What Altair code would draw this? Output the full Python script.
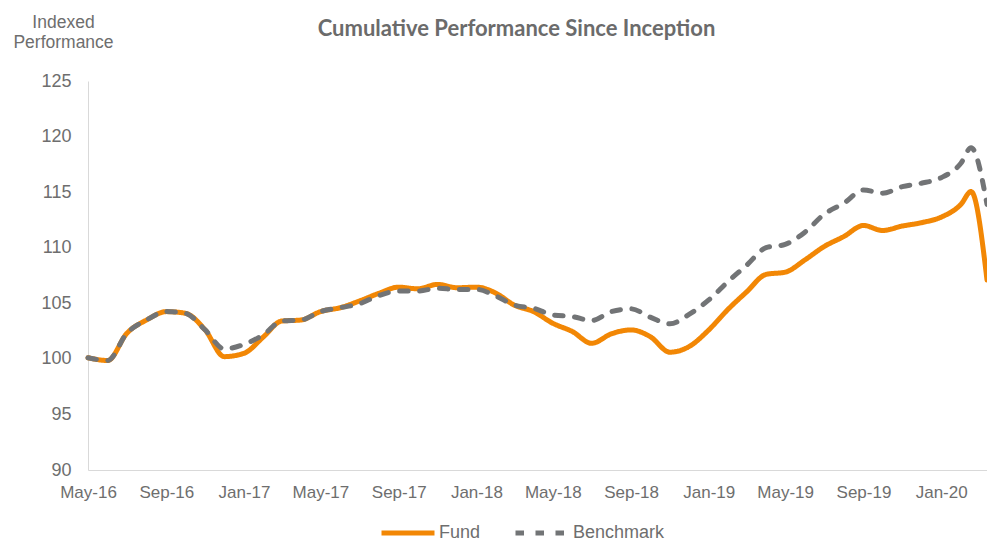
import altair as alt
import pandas as pd

# ---- data ----
month_starts = [d.strftime("%Y-%m-%d") for d in pd.date_range("2016-05-01", "2020-02-01", freq="MS")]
dates = month_starts + ["2020-02-17", "2020-03-13"]

fund = [100.1, 99.85, 102.3, 103.5, 104.25, 104.1, 102.6, 100.2, 100.5, 102.0,
        103.4, 103.5, 104.25, 104.6, 105.2, 105.9, 106.45, 106.3, 106.7, 106.4,
        106.45, 105.9, 104.85, 104.25, 103.2, 102.45, 101.4, 102.25, 102.6, 102.0,
        100.6, 101.1, 102.6, 104.5, 106.0, 107.6, 107.8, 108.9, 110.1, 111.0,
        112.0, 111.55, 111.95, 112.25, 112.75, 113.9, 115.05, 107.1]

benchmark = [100.1, 99.85, 102.3, 103.5, 104.25, 104.1, 102.6, 100.9, 101.3, 102.2,
             103.4, 103.5, 104.25, 104.6, 104.95, 105.7, 106.1, 106.1, 106.35, 106.25,
             106.25, 105.65, 104.85, 104.55, 103.95, 103.8, 103.45, 104.25, 104.5, 103.75,
             103.15, 104.0, 105.3, 107.0, 108.4, 110.0, 110.3, 111.4, 113.0, 114.0,
             115.2, 114.9, 115.5, 115.8, 116.3, 117.6, 119.0, 113.9]

series_names = ["Fund", "Benchmark"]
series_colors = ["#F28705", "#727476"]
tick_years_months = [(2016, 5), (2016, 9), (2017, 1), (2017, 5), (2017, 9), (2018, 1),
                     (2018, 5), (2018, 9), (2019, 1), (2019, 5), (2019, 9), (2020, 1)]
y_ticks = [90, 95, 100, 105, 110, 115, 120, 125]

df = pd.DataFrame({
    "date": dates * 2,
    "series": ["Fund"] * len(dates) + ["Benchmark"] * len(dates),
    "value": fund + benchmark,
})

TEXT = "#6e6e6e"
FONT = "Liberation Sans"

xscale = alt.Scale(type="utc",
                   domain=[alt.DateTime(year=2016, month=5, date=1, utc=True),
                           alt.DateTime(year=2020, month=3, date=13, utc=True)])
xaxis = alt.Axis(values=[alt.DateTime(year=y, month=m, date=1, utc=True) for y, m in tick_years_months],
                 format="%b-%y", labelFontSize=17, labelColor=TEXT, labelFont=FONT,
                 ticks=False, tickSize=0, labelPadding=14, grid=False,
                 domainColor="#d9d9d9", domainWidth=1, labelOverlap=False, labelFlush=False)
yaxis = alt.Axis(values=y_ticks, labelFontSize=18, labelColor=TEXT, labelFont=FONT,
                 ticks=False, tickSize=0, labelPadding=17, grid=False,
                 domainColor="#d9d9d9", domainWidth=1,
                 title=["Indexed", "Performance"], titleAngle=0, titleAlign="center",
                 titleBaseline="top", titleX=-25, titleY=-68, titleFontSize=17.5,
                 titleFontWeight="normal", titleColor=TEXT, titleFont=FONT, titleLineHeight=20)

legend = alt.Legend(title=None, orient="none", legendX=291, legendY=423, direction="horizontal",
                    symbolType="stroke", symbolSize=2809, symbolStrokeWidth=5,
                    labelFontSize=18, labelColor=TEXT, labelFont=FONT, labelOffset=2,
                    columnPadding=24, padding=0)

base = alt.Chart(df)


def line(name):
    return base.transform_filter(alt.datum.series == name).mark_line(
        interpolate="monotone", strokeWidth=5, strokeCap="round", strokeJoin="round"
    ).encode(
        x=alt.X("date:T", scale=xscale, axis=xaxis, title=None),
        y=alt.Y("value:Q", scale=alt.Scale(domain=[90, 125], nice=False, zero=False), axis=yaxis),
        color=alt.Color("series:N", scale=alt.Scale(domain=series_names, range=series_colors), legend=legend),
        strokeDash=alt.StrokeDash("series:N",
                                  scale=alt.Scale(domain=series_names, range=[[1, 0], [8.5, 11.5]]),
                                  legend=legend),
    )


chart = alt.layer(line("Fund"), line("Benchmark")).properties(
    width=899, height=389,
    title=alt.TitleParams("Cumulative Performance Since Inception", anchor="middle", frame="group",
                          dx=-21, dy=28, offset=0, fontSize=22, font="Lato", fontWeight="bold",
                          color="#6b6b6b"),
    autosize=alt.AutoSizeParams(type="none"),
    padding={"left": 80, "top": 73, "right": 0, "bottom": 74},
).configure(background="white").configure_view(stroke=None, strokeWidth=0)

chart.save("out.html", embed_options={"renderer": "svg", "actions": False})
